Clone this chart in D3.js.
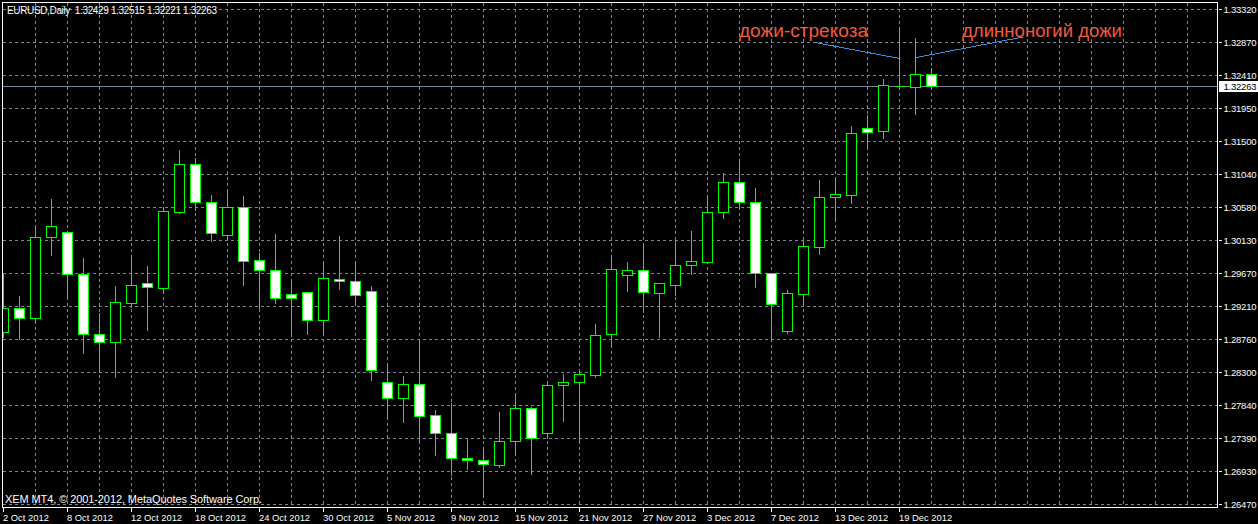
<!DOCTYPE html>
<html><head><meta charset="utf-8">
<script src="https://cdn.jsdelivr.net/npm/d3@7"></script>
<style>html,body{margin:0;padding:0;background:#000;overflow:hidden}</style>
</head><body>
<svg id="c" width="1258" height="524"></svg>
<script>
const symbolTitle = "EURUSD,Daily  1.32429 1.32515 1.32221 1.32263";
const copyrightText = "XEM MT4, \u00a9 2001-2012, MetaQuotes Software Corp.";

const dates = [
 "2 Oct 2012","3 Oct 2012","4 Oct 2012","5 Oct 2012","8 Oct 2012","9 Oct 2012","10 Oct 2012","11 Oct 2012","12 Oct 2012","15 Oct 2012",
 "16 Oct 2012","17 Oct 2012","18 Oct 2012","19 Oct 2012","22 Oct 2012","23 Oct 2012","24 Oct 2012","25 Oct 2012","26 Oct 2012","29 Oct 2012",
 "30 Oct 2012","31 Oct 2012","1 Nov 2012","2 Nov 2012","5 Nov 2012","6 Nov 2012","7 Nov 2012","8 Nov 2012","9 Nov 2012","12 Nov 2012",
 "13 Nov 2012","14 Nov 2012","15 Nov 2012","16 Nov 2012","19 Nov 2012","20 Nov 2012","21 Nov 2012","22 Nov 2012","23 Nov 2012","26 Nov 2012",
 "27 Nov 2012","28 Nov 2012","29 Nov 2012","30 Nov 2012","3 Dec 2012","4 Dec 2012","5 Dec 2012","6 Dec 2012","7 Dec 2012","10 Dec 2012",
 "11 Dec 2012","12 Dec 2012","13 Dec 2012","14 Dec 2012","17 Dec 2012","18 Dec 2012","19 Dec 2012","20 Dec 2012","21 Dec 2012"];

const openValues = [
 1.28854,1.29182,1.29044,1.30165,1.30234,1.29653,1.28831,1.28720,1.29260,1.29528,
 1.29467,1.30519,1.31175,1.30649,1.30192,1.30580,1.29846,1.29708,1.29376,1.29404,
 1.29016,1.29592,1.29556,1.29417,1.28158,1.27937,1.28131,1.27702,1.27453,1.27107,
 1.27079,1.27018,1.27342,1.27798,1.27461,1.28117,1.28158,1.28263,1.28820,1.29647,
 1.29708,1.29398,1.29509,1.29777,1.29819,1.30511,1.30926,1.30649,1.29667,1.28872,
 1.29384,1.30035,1.30718,1.30754,1.31673,1.31632,1.32263,1.32249,1.32429];
const highValues = [
 1.29671,1.29366,1.30335,1.30709,1.30252,1.29892,1.29131,1.29505,1.29930,1.29781,
 1.30598,1.31387,1.31272,1.30764,1.30833,1.30750,1.29957,1.30220,1.29574,1.29417,
 1.29841,1.30197,1.29841,1.29505,1.28421,1.28259,1.28762,1.27789,1.27886,1.27383,
 1.27277,1.27761,1.28020,1.27834,1.28190,1.28291,1.28319,1.28979,1.29913,1.29837,
 1.30096,1.29535,1.30123,1.30266,1.30760,1.31068,1.31262,1.30861,1.29685,1.29449,
 1.30127,1.30967,1.31013,1.31715,1.31871,1.32369,1.33089,1.32941,1.32515];
const lowValues = [
 1.28785,1.28757,1.28983,1.29920,1.29343,1.28564,1.28319,1.28236,1.29204,1.28882,
 1.29398,1.30505,1.30547,1.30118,1.30141,1.29509,1.29182,1.29251,1.28803,1.28831,
 1.28817,1.29453,1.29232,1.28194,1.27650,1.27613,1.27328,1.27152,1.26875,1.26963,
 1.26575,1.26986,1.27152,1.26893,1.27383,1.27623,1.27322,1.28236,1.28651,1.29422,
 1.29135,1.28789,1.29370,1.29661,1.29809,1.30436,1.30566,1.29481,1.28734,1.28840,
 1.29238,1.29938,1.30394,1.30644,1.31396,1.31543,1.32213,1.31875,1.32221];
const closeValues = [
 1.29186,1.29044,1.30165,1.30317,1.29661,1.28831,1.28720,1.29265,1.29501,1.29473,
 1.30525,1.31175,1.30649,1.30220,1.30580,1.29833,1.29708,1.29321,1.29321,1.29016,
 1.29597,1.29556,1.29370,1.28333,1.27937,1.28131,1.27688,1.27453,1.27107,1.27079,
 1.27024,1.27342,1.27798,1.27392,1.28117,1.28158,1.28269,1.28809,1.29722,1.29708,
 1.29412,1.29528,1.29777,1.29833,1.30511,1.30926,1.30649,1.29667,1.29238,1.29390,
 1.30040,1.30718,1.30760,1.31604,1.31618,1.32268,1.32258,1.32420,1.32263];

const priceTickLabels = ["1.33320","1.32870","1.32410","1.31950","1.31500","1.31040","1.30580","1.30130",
 "1.29670","1.29210","1.28760","1.28300","1.27840","1.27390","1.26930","1.26470"];
const dateTickLabels = ["2 Oct 2012","8 Oct 2012","12 Oct 2012","18 Oct 2012","24 Oct 2012","30 Oct 2012",
 "5 Nov 2012","9 Nov 2012","15 Nov 2012","21 Nov 2012","27 Nov 2012","3 Dec 2012","7 Dec 2012","13 Dec 2012","19 Dec 2012"];

const annotationTexts = ["дожи-стрекоза","длинноногий дожи"];

// ---------- layout ----------
const W = 1258, H = 524;
const plot = {left: 2.5, top: 2.5, right: 1217.5, bottom: 507.5};
const GRID = "#778899", GREEN = "#00ff00", FG = "#ffffff";

const svg = d3.select("#c");
svg.append("rect").attr("width", W).attr("height", H).attr("fill", "#000");

const priceTicks = priceTickLabels.map(Number);
const y = d3.scaleLinear().domain([1.26470, 1.33320]).range([504.3, 9.3]);
const x = d3.scaleLinear().domain([0, dates.length - 1]).range([3.3, 3.3 + 16 * (dates.length - 1)]);
const py = v => Math.round(y(v)) + 0.5;
const px = i => Math.floor(x(i)) + 0.5;

svg.append("defs").append("clipPath").attr("id", "clip")
  .append("rect").attr("x", 3).attr("y", 3).attr("width", 1214).attr("height", 504);

const g = svg.append("g").attr("clip-path", "url(#clip)").attr("shape-rendering", "crispEdges");

// grid
g.selectAll(".hg").data(priceTicks).join("line")
  .attr("x1", 3).attr("x2", 1217).attr("y1", d => py(d)).attr("y2", d => py(d))
  .attr("stroke", GRID).attr("stroke-dasharray", "3,3");
const vIdx = d3.range(2, 80, 2).filter(i => x(i) < 1216);
g.selectAll(".vg").data(vIdx).join("line")
  .attr("x1", d => px(d)).attr("x2", d => px(d)).attr("y1", 3).attr("y2", 507)
  .attr("stroke", GRID).attr("stroke-dasharray", "3,3");

// current price line
const lastClose = closeValues[closeValues.length - 1];
g.append("line").attr("x1", 3).attr("x2", 1217).attr("y1", py(lastClose)).attr("y2", py(lastClose))
  .attr("stroke", GRID);

// candles
const candles = dates.map((d, i) => ({i, o: openValues[i], h: highValues[i], l: lowValues[i], c: closeValues[i]}));
g.selectAll(".wick").data(candles).join("line")
  .attr("x1", d => px(d.i)).attr("x2", d => px(d.i))
  .attr("y1", d => py(d.h)).attr("y2", d => py(d.l))
  .attr("stroke", GREEN);
g.selectAll(".body").data(candles).join("path")
  .attr("d", d => {
    const x0 = px(d.i) - 5, x1 = px(d.i) + 5;
    const y0 = py(Math.max(d.o, d.c)), y1 = py(Math.min(d.o, d.c));
    return `M${x0},${y0}H${x1}V${y1}H${x0}Z`;
  })
  .attr("fill", d => d.c >= d.o ? "#000" : "#fff")
  .attr("stroke", GREEN);

// annotations (trend lines + texts)
const ann = svg.append("g");
ann.append("line").attr("x1", 815).attr("y1", 42.5).attr("x2", px(56)).attr("y2", 58.5)
  .attr("stroke", "#3a8ee6").attr("shape-rendering", "crispEdges");
ann.append("line").attr("x1", px(57) + 1).attr("y1", 57.5).attr("x2", 1023).attr("y2", 37)
  .attr("stroke", "#3a8ee6").attr("shape-rendering", "crispEdges");
ann.append("text").attr("x", 739).attr("y", 37).text(annotationTexts[0])
  .attr("font-family", "Liberation Sans, Arial, sans-serif").attr("font-size", 18.67)
  .attr("fill", "#f05a3e").attr("textLength", 129).attr("lengthAdjust", "spacingAndGlyphs");
ann.append("text").attr("x", 962).attr("y", 37).text(annotationTexts[1])
  .attr("font-family", "Liberation Sans, Arial, sans-serif").attr("font-size", 18.67)
  .attr("fill", "#f05a3e").attr("textLength", 160).attr("lengthAdjust", "spacingAndGlyphs");

// border
svg.append("rect").attr("x", plot.left).attr("y", plot.top)
  .attr("width", plot.right - plot.left).attr("height", plot.bottom - plot.top)
  .attr("fill", "none").attr("stroke", FG).attr("shape-rendering", "crispEdges");

const font = "Liberation Sans, Arial, sans-serif";
// right price axis
const ra = svg.append("g").attr("shape-rendering", "crispEdges");
ra.selectAll("line").data(priceTicks).join("line")
  .attr("x1", 1219).attr("x2", 1222).attr("y1", d => py(d)).attr("y2", d => py(d)).attr("stroke", FG);
svg.append("g").selectAll("text").data(priceTickLabels).join("text")
  .attr("x", 1223.5).attr("y", d => py(+d)).attr("dy", "0.35em")
  .attr("font-family", font).attr("font-size", 9.5).attr("fill", FG)
  .attr("textLength", 33).text(d => d);

// current price label
svg.append("rect").attr("x", 1219).attr("y", py(lastClose) - 6).attr("width", 39).attr("height", 11)
  .attr("fill", "#fff").attr("shape-rendering", "crispEdges");
svg.append("text").attr("x", 1223.5).attr("y", py(lastClose)).attr("dy", "0.35em")
  .attr("font-family", font).attr("font-size", 9.5).attr("fill", "#000")
  .attr("textLength", 33).text(lastClose.toFixed(5));

// bottom date axis
const dTicks = dateTickLabels.map(l => dates.indexOf(l));
svg.append("g").attr("shape-rendering", "crispEdges").selectAll("line").data(dTicks).join("line")
  .attr("x1", d => px(d)).attr("x2", d => px(d)).attr("y1", 508).attr("y2", 512).attr("stroke", FG);
svg.append("g").selectAll("text").data(dTicks).join("text")
  .attr("x", d => px(d) - 0.5).attr("y", 521)
  .attr("font-family", font).attr("font-size", 9.4).attr("fill", FG)
  .text((d, k) => dateTickLabels[k]);

// header & copyright
svg.append("text").attr("x", 7).attr("y", 14).text(symbolTitle)
  .attr("font-family", font).attr("font-size", 10).attr("fill", FG).attr("xml:space", "preserve")
  .attr("textLength", 210);
svg.append("text").attr("x", 5).attr("y", 503).text(copyrightText)
  .attr("font-family", font).attr("font-size", 11).attr("fill", FG).attr("textLength", 257);
</script>
</body></html>
